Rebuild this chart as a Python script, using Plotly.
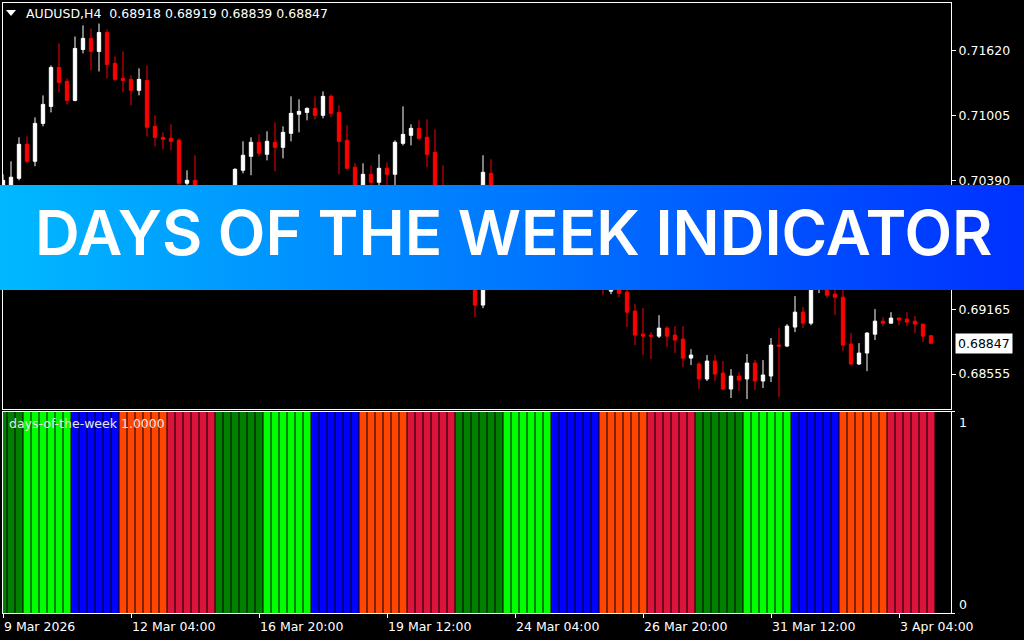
import base64
import pandas as pd
import plotly.graph_objects as go

# ---------------- data ----------------
symbol_title = "AUDUSD,H4  0.68918 0.68919 0.68839 0.68847"
indicator_title = "days-of-the-week 1.0000"
banner_text = "DAYS OF THE WEEK INDICATOR"

# trading days shown and how many H4 bars of each are visible
session_days = ["2026-03-09", "2026-03-10", "2026-03-11", "2026-03-12", "2026-03-13",
                "2026-03-16", "2026-03-17", "2026-03-18", "2026-03-19", "2026-03-20",
                "2026-03-23", "2026-03-24", "2026-03-25", "2026-03-26", "2026-03-27",
                "2026-03-30", "2026-03-31", "2026-04-01", "2026-04-02", "2026-04-03"]
bars_per_day = [3, 6, 6, 6, 6, 6, 6, 6, 6, 6, 6, 6, 6, 6, 6, 6, 6, 6, 6, 6]
h4_hours = [0, 4, 8, 12, 16, 20]

day_colors = {"Monday": "#008000", "Tuesday": "#00FF00", "Wednesday": "#0000FF",
              "Thursday": "#FF4500", "Friday": "#DC143C"}

opens = [0.70154, 0.70343, 0.70409, 0.70731, 0.70570, 0.70929, 0.71090, 0.71459, 0.71327, 0.71147,
         0.71629, 0.71734, 0.71611, 0.71790, 0.71497, 0.71355, 0.71346, 0.71242, 0.71336, 0.70901,
         0.70797, 0.70788, 0.70769, 0.70362, 0.70390, 0.70154, 0.70031, 0.70125, 0.69993, 0.70296,
         0.70485, 0.70617, 0.70750, 0.70636, 0.70750, 0.70702, 0.70835, 0.71015, 0.71033, 0.71071,
         0.71005, 0.71185, 0.71033, 0.70769, 0.70513, 0.70220, 0.70447, 0.70371, 0.70504, 0.70447,
         0.70740, 0.70816, 0.70882, 0.70797, 0.70655, 0.70315, 0.70239, 0.70012, 0.70106, 0.69823,
         0.69208, 0.70456, 0.70154, 0.69965, 0.70087, 0.69823, 0.69709, 0.69842, 0.69766, 0.69936,
         0.69728, 0.69558, 0.69681, 0.69520, 0.69614, 0.69539, 0.69340, 0.69416, 0.69331, 0.69151,
         0.68933, 0.68924, 0.68914, 0.68990, 0.68924, 0.68886, 0.68706, 0.68650, 0.68508, 0.68678,
         0.68564, 0.68413, 0.68536, 0.68508, 0.68659, 0.68489, 0.68536, 0.68829, 0.68820, 0.69000,
         0.69141, 0.69037, 0.69510, 0.69586, 0.69312, 0.69283, 0.68839, 0.68650, 0.68754, 0.68933,
         0.69056, 0.69037, 0.69085, 0.69075, 0.69056, 0.69028, 0.68918]
highs = [0.70447, 0.70570, 0.70797, 0.70806, 0.70986, 0.71194, 0.71478, 0.71686, 0.71355, 0.71752,
         0.71857, 0.71828, 0.71875, 0.71819, 0.71563, 0.71611, 0.71384, 0.71450, 0.71478, 0.71005,
         0.70844, 0.70920, 0.70788, 0.70485, 0.70627, 0.70220, 0.70201, 0.70239, 0.70315, 0.70504,
         0.70759, 0.70797, 0.70825, 0.70854, 0.70939, 0.70901, 0.71185, 0.71157, 0.71081, 0.71185,
         0.71232, 0.71204, 0.71100, 0.70911, 0.70551, 0.70551, 0.70532, 0.70636, 0.70560, 0.70769,
         0.71090, 0.70920, 0.70958, 0.70967, 0.70873, 0.70532, 0.70296, 0.70201, 0.70154, 0.69917,
         0.70627, 0.70589, 0.70248, 0.70154, 0.70125, 0.69917, 0.69936, 0.69955, 0.70012, 0.69993,
         0.69785, 0.69747, 0.69728, 0.69709, 0.69652, 0.69614, 0.69482, 0.69463, 0.69359, 0.69217,
         0.69179, 0.68952, 0.69113, 0.69009, 0.69009, 0.69009, 0.68791, 0.68668, 0.68735, 0.68735,
         0.68678, 0.68602, 0.68574, 0.68744, 0.68687, 0.68687, 0.68896, 0.68990, 0.69028, 0.69293,
         0.69189, 0.69614, 0.69709, 0.69652, 0.69425, 0.69387, 0.68943, 0.68848, 0.68952, 0.69170,
         0.69094, 0.69141, 0.69094, 0.69141, 0.69104, 0.69028, 0.68919]
lows = [0.70087, 0.70277, 0.70390, 0.70551, 0.70523, 0.70901, 0.71033, 0.71223, 0.71109, 0.71138,
        0.71592, 0.71431, 0.71421, 0.71355, 0.71327, 0.71223, 0.71100, 0.71194, 0.70806, 0.70712,
        0.70683, 0.70674, 0.70333, 0.70333, 0.70087, 0.69955, 0.69917, 0.69898, 0.69955, 0.70239,
        0.70456, 0.70438, 0.70617, 0.70579, 0.70475, 0.70598, 0.70759, 0.70844, 0.70958, 0.70967,
        0.70977, 0.70986, 0.70447, 0.70494, 0.70154, 0.70182, 0.70296, 0.70296, 0.70315, 0.70296,
        0.70721, 0.70721, 0.70769, 0.70513, 0.70201, 0.70106, 0.69936, 0.69870, 0.69728, 0.69094,
        0.69179, 0.70059, 0.69898, 0.69870, 0.69747, 0.69614, 0.69652, 0.69681, 0.69709, 0.69633,
        0.69492, 0.69463, 0.69425, 0.69444, 0.69387, 0.69302, 0.69312, 0.69283, 0.69000, 0.68829,
        0.68735, 0.68697, 0.68896, 0.68810, 0.68754, 0.68621, 0.68640, 0.68413, 0.68489, 0.68489,
        0.68404, 0.68328, 0.68394, 0.68318, 0.68404, 0.68423, 0.68479, 0.68337, 0.68810, 0.68952,
        0.68990, 0.69018, 0.69321, 0.69274, 0.69113, 0.68773, 0.68640, 0.68640, 0.68583, 0.68877,
        0.69009, 0.69037, 0.69018, 0.69009, 0.68943, 0.68858, 0.68839]
closes = [0.70390, 0.70419, 0.70731, 0.70570, 0.70929, 0.71109, 0.71459, 0.71317, 0.71147, 0.71639,
          0.71734, 0.71611, 0.71790, 0.71488, 0.71346, 0.71336, 0.71242, 0.71346, 0.70892, 0.70797,
          0.70778, 0.70759, 0.70362, 0.70390, 0.70154, 0.70031, 0.70125, 0.69993, 0.70277, 0.70494,
          0.70627, 0.70750, 0.70646, 0.70759, 0.70702, 0.70844, 0.71024, 0.71043, 0.71071, 0.71005,
          0.71185, 0.71024, 0.70759, 0.70504, 0.70220, 0.70447, 0.70371, 0.70504, 0.70447, 0.70750,
          0.70825, 0.70882, 0.70788, 0.70636, 0.70248, 0.70239, 0.70012, 0.70106, 0.69823, 0.69208,
          0.70466, 0.70154, 0.69965, 0.70087, 0.69823, 0.69709, 0.69842, 0.69766, 0.69936, 0.69728,
          0.69558, 0.69681, 0.69520, 0.69614, 0.69463, 0.69378, 0.69425, 0.69321, 0.69141, 0.68924,
          0.68914, 0.68914, 0.68990, 0.68914, 0.68877, 0.68706, 0.68735, 0.68508, 0.68678, 0.68555,
          0.68413, 0.68536, 0.68498, 0.68659, 0.68489, 0.68546, 0.68829, 0.68820, 0.69009, 0.69141,
          0.69037, 0.69520, 0.69614, 0.69302, 0.69283, 0.68829, 0.68650, 0.68754, 0.68943, 0.69056,
          0.69037, 0.69085, 0.69066, 0.69047, 0.69028, 0.68914, 0.68847]

# visible price scale labels (the one under the banner is hidden in the reference)
price_ticks = [0.71620, 0.71005, 0.70390, 0.69165, 0.68555]
price_tick_labels = ["0.71620", "0.71005", "0.70390", "0.69165", "0.68555"]
last_price = 0.68847
last_price_label = "0.68847"

time_tick_bars = [0, 16, 32, 48, 64, 80, 96, 112]
time_tick_labels = ["9 Mar 2026", "12 Mar 04:00", "16 Mar 20:00", "19 Mar 12:00",
                    "24 Mar 04:00", "26 Mar 20:00", "31 Mar 12:00", "3 Apr 04:00"]

# ---------------- build bar table ----------------
rows = []
for day, n in zip(session_days, bars_per_day):
    for h in h4_hours[len(h4_hours) - n:]:
        rows.append(pd.Timestamp(day) + pd.Timedelta(hours=h))
df = pd.DataFrame({"time": rows, "open": opens, "high": highs, "low": lows, "close": closes})
df["bar"] = range(len(df))
df["weekday"] = df["time"].dt.day_name()
df["color"] = df["weekday"].map(day_colors)
df["dow_value"] = 1  # indicator histogram value (full height every bar)

# ---------------- layout helpers (pixel -> paper) ----------------
W, H = 1024, 640
def px(x):
    return x / W
def py(y):
    return 1 - y / H

FONT = "DejaVu Sans, Tahoma, Verdana, sans-serif"
FS = 12.5
x_range = [0, 118.5]

fig = go.Figure()
fig.add_trace(go.Candlestick(
    x=df["bar"], open=df["open"], high=df["high"], low=df["low"], close=df["close"],
    xaxis="x", yaxis="y", whiskerwidth=0,
    increasing=dict(line=dict(color="#FFFFFF", width=1), fillcolor="#FFFFFF"),
    decreasing=dict(line=dict(color="#FF0000", width=1), fillcolor="#FF0000"),
    hoverinfo="skip", showlegend=False))
fig.add_trace(go.Bar(
    x=df["bar"], y=df["dow_value"], xaxis="x2", yaxis="y2",
    marker=dict(color=df["color"], line=dict(width=0)),
    hoverinfo="skip", showlegend=False))

axis_common = dict(showgrid=False, zeroline=False, showline=True, linecolor="#FFFFFF",
                   linewidth=1, mirror=True, fixedrange=True)

# banner gradient image
svg = ('<svg xmlns="http://www.w3.org/2000/svg" width="1024" height="105">'
       '<defs><linearGradient id="g" x1="0" y1="0" x2="1" y2="0">'
       '<stop offset="0" stop-color="#00B8FF"/><stop offset="0.5" stop-color="#0078FF"/>'
       '<stop offset="1" stop-color="#0030FF"/></linearGradient></defs>'
       '<rect width="1024" height="105" fill="url(#g)"/></svg>')
banner_src = "data:image/svg+xml;base64," + base64.b64encode(svg.encode()).decode()

annotations = []
for b, lab in zip(time_tick_bars, time_tick_labels):
    annotations.append(dict(x=b, y=py(626), xref="x2", yref="paper", text=lab,
                            showarrow=False, xanchor="left", yanchor="middle", xshift=-1,
                            font=dict(family=FONT, size=FS, color="#FFFFFF")))
annotations += [
    dict(x=px(24), y=py(14), xref="paper", yref="paper", text=symbol_title, showarrow=False,
         xanchor="left", yanchor="middle", font=dict(family=FONT, size=FS, color="#FFFFFF")),
    dict(x=px(7), y=py(423), xref="paper", yref="paper", text=indicator_title, showarrow=False,
         xanchor="left", yanchor="middle", font=dict(family=FONT, size=FS, color="#E8E8E8")),
    dict(x=px(957), y=py(422), xref="paper", yref="paper", text="1", showarrow=False,
         xanchor="left", yanchor="middle", font=dict(family=FONT, size=FS, color="#FFFFFF")),
    dict(x=px(957), y=py(604), xref="paper", yref="paper", text="0", showarrow=False,
         xanchor="left", yanchor="middle", font=dict(family=FONT, size=FS, color="#FFFFFF")),
    dict(x=px(955), y=last_price, xref="paper", yref="y", text=last_price_label, showarrow=False,
         xanchor="left", yanchor="middle", bgcolor="#FFFFFF", borderpad=2,
         font=dict(family=FONT, size=FS, color="#000000")),
    dict(x=px(514), y=py(233), xref="paper", yref="paper", text=banner_text, showarrow=False,
         xanchor="center", yanchor="middle",
         font=dict(family="Inter, Lato, sans-serif", size=62, color="#FFFFFF", weight=600)),
]

fig.update_layout(
    width=W, height=H, margin=dict(l=0, r=0, t=0, b=0),
    paper_bgcolor="#000000", plot_bgcolor="#000000",
    showlegend=False, hovermode=False, dragmode=False,
    bargap=0.125, boxgap=0.4,
    xaxis=dict(domain=[px(3), px(951)], range=x_range, anchor="y", showticklabels=False,
               ticks="", rangeslider=dict(visible=False), **axis_common),
    yaxis=dict(domain=[py(409), py(2.5)], range=[0.68224, 0.72074], anchor="x", side="right",
               tickmode="array", tickvals=price_ticks, ticktext=price_tick_labels,
               ticks="outside", ticklen=4, tickcolor="#FFFFFF",
               tickfont=dict(family=FONT, size=FS, color="#FFFFFF"), **axis_common),
    xaxis2=dict(domain=[px(3), px(951)], range=x_range, anchor="y2", showticklabels=False,
                tickmode="array", tickvals=time_tick_bars, ticks="outside", ticklen=4,
                tickcolor="#FFFFFF", **axis_common),
    yaxis2=dict(domain=[py(613), py(411.5)], range=[0, 1], anchor="x2", side="right",
                tickmode="array", tickvals=[0, 1], showticklabels=False,
                ticks="outside", ticklen=3, tickcolor="#FFFFFF", **axis_common),
    shapes=[dict(type="path", xref="paper", yref="paper", layer="above",
                 path=f"M {px(6)} {py(10)} L {px(16)} {py(10)} L {px(11)} {py(16)} Z",
                 fillcolor="#FFFFFF", line=dict(width=0))],
    images=[dict(source=banner_src, xref="paper", yref="paper", x=0, y=py(185),
                 sizex=1, sizey=105 / H, xanchor="left", yanchor="top",
                 sizing="stretch", layer="above")],
    annotations=annotations,
)

fig.write_html("out.html", config={"displayModeBar": False},
               post_script="document.body.style.margin='0';document.body.style.overflow='hidden';")
